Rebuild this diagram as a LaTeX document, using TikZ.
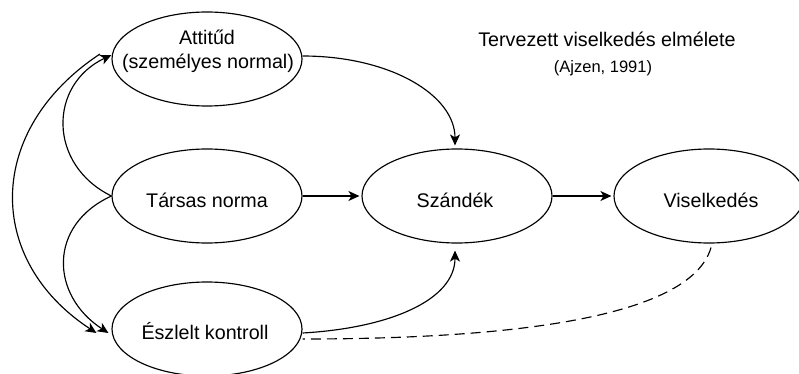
\documentclass[tikz,border=0pt]{standalone}
\usepackage{fontspec}
\setmainfont{Liberation Sans}
\usetikzlibrary{shapes.geometric,arrows.meta}
\begin{document}
\begin{tikzpicture}[x=1pt,y=-1pt,
  construct/.style={draw,ellipse,line width=1.15pt,minimum width=190pt,minimum height=94pt,inner sep=0pt},
  lbl/.style={anchor=base,inner sep=0pt,font=\fontsize{19.7}{24}\selectfont},
  sublbl/.style={anchor=base,inner sep=0pt,font=\fontsize{16.5}{20}\selectfont},
  link/.style={line width=1.15pt,-{Stealth[length=11pt,width=10pt,inset=3pt]}},
  weaklink/.style={line width=1.15pt,dash pattern=on 10pt off 6pt}]
\useasboundingbox (0,0) rectangle (799,374);

% constructs of the model
\node[construct] (att) at (207,59) {};
\node[construct] (tn)  at (207,196) {};
\node[construct] (ek)  at (207,329) {};
\node[construct] (sz)  at (457,196) {};
\node[construct] (vis) at (709,196) {};

% labels
\node[lbl] (attl1) at (207,45) {Attitűd};
\node[lbl] (attl2) at (208,69) {(személyes normal)};
\node[lbl] (tnl)   at (207,207) {Társas norma};
\node[lbl] (ekl)   at (205,339) {Észlelt kontroll};
\node[lbl] (szl)   at (455,207) {Szándék};
\node[lbl] (visl)  at (711,207) {Viselkedés};

% title
\node[lbl] (title) at (607,47) {Tervezett viselkedés elmélete};
\node[sublbl] (cite) at (603,73) {(Ajzen, 1991)};

% predictors -> intention -> behaviour
\draw[link] ([yshift=3pt]att.east) .. controls (390,56) and (455,95) .. ([xshift=-2pt,yshift=3pt]sz.north);
\draw[link] (tn.east) -- ([xshift=-2pt]sz.west);
\draw[link] ([yshift=-4pt]ek.east) .. controls (390,328) and (455,300) .. ([xshift=-2pt,yshift=-7pt]sz.south);
\draw[link] (sz.east) -- ([xshift=-2pt]vis.west);

% direct effect of perceived control on behaviour
\draw[weaklink] ([xshift=2pt,yshift=-4pt]vis.south) .. controls (690,320) and (500,339) .. ([yshift=-10pt]ek.east);

% correlations among the predictors
\coordinate (outtop) at (100,54);
\draw[link] (tn.west) .. controls (48,165) and (48,85) .. ([yshift=4pt]att.west);
\draw[link] (tn.west) .. controls (48,225) and (50,295) .. ([xshift=-3pt,yshift=-4pt]ek.west);
\draw[link] (outtop) .. controls (-15,130) and (-15,260) .. ([xshift=-15pt,yshift=-4pt]ek.west);
\end{tikzpicture}
\end{document}
